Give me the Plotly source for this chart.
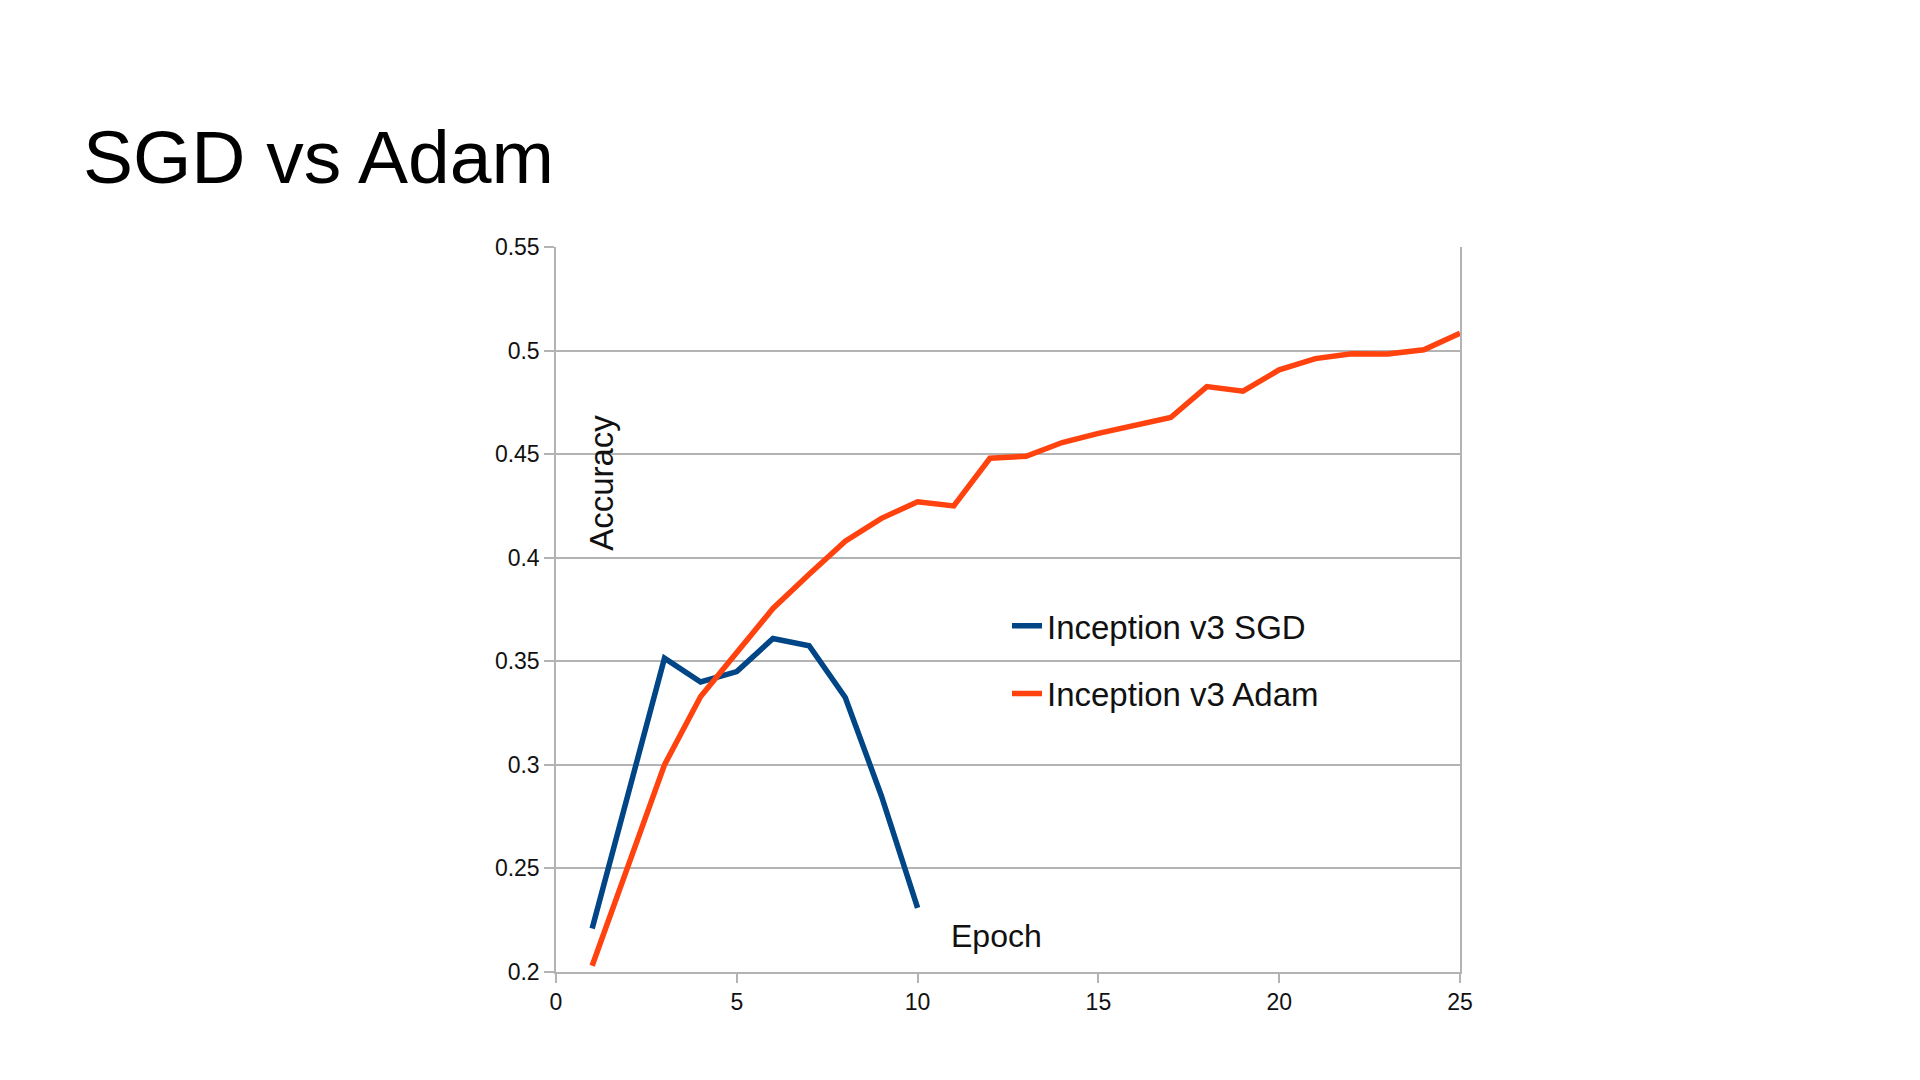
import plotly.graph_objects as go

# ---- data ----
sgd_epochs = [1, 2, 3, 4, 5, 6, 7, 8, 9, 10]
sgd_accuracy = [0.221, 0.286, 0.3515, 0.340, 0.345, 0.361, 0.3575, 0.3325, 0.285, 0.231]

adam_epochs = list(range(1, 26))
adam_accuracy = [0.203, 0.252, 0.300, 0.333, 0.3545, 0.3755, 0.392, 0.408, 0.419, 0.427,
                 0.425, 0.448, 0.449, 0.4556, 0.460, 0.4638, 0.4677, 0.4826, 0.4804, 0.4907,
                 0.4961, 0.4985, 0.4983, 0.5004, 0.5084]

series_names = ["Inception v3 SGD", "Inception v3 Adam"]
x_ticks = [0, 5, 10, 15, 20, 25]
y_ticks = [0.2, 0.25, 0.3, 0.35, 0.4, 0.45, 0.5, 0.55]
y_tick_text = ["0.2", "0.25", "0.3", "0.35", "0.4", "0.45", "0.5", "0.55"]

FONT = "Liberation Sans, Arial, sans-serif"
GRID = "#b3b3b3"

fig = go.Figure()
fig.add_trace(go.Scatter(x=sgd_epochs, y=sgd_accuracy, mode="lines", name=series_names[0],
                         legendgroup="a", line=dict(color="#004586", width=5.5)))
fig.add_trace(go.Scatter(x=adam_epochs, y=adam_accuracy, mode="lines", name=series_names[1],
                         legendgroup="b", line=dict(color="#ff420e", width=5.5)))

L, R, T, B = 556, 460, 247, 107.5
W, H = 1920, 1080
pw, ph = W - L - R, H - T - B

fig.update_layout(
    width=W, height=H,
    margin=dict(l=L, r=R, t=T, b=B, pad=0),
    paper_bgcolor="white", plot_bgcolor="white",
    font=dict(family=FONT, color="#111111"),
    title=dict(text="SGD vs Adam", font=dict(family=FONT, size=75, color="#000000"),
               xref="container", yref="container", x=83 / W, xanchor="left",
               y=1 - 157 / H, yanchor="middle"),
    showlegend=True,
    legend=dict(x=(1007 - L) / pw, y=(972.5 - 598) / ph, xanchor="left", yanchor="top",
                bgcolor="rgba(0,0,0,0)", font=dict(family=FONT, size=33, color="#111111"),
                tracegroupgap=22, traceorder="grouped"),
    xaxis=dict(range=[0, 25], tickvals=x_ticks, ticktext=[str(v) for v in x_ticks],
               showgrid=False, zeroline=False, showline=True, linecolor=GRID, linewidth=1.5,
               ticks="outside", ticklen=9, tickcolor=GRID, tickwidth=1.5,
               tickfont=dict(family=FONT, size=23, color="#111111")),
    yaxis=dict(range=[0.2, 0.55], tickvals=y_ticks, ticktext=y_tick_text,
               showgrid=True, gridcolor=GRID, gridwidth=1.5, zeroline=False,
               showline=True, linecolor=GRID, linewidth=1.5, mirror=True,
               ticks="outside", ticklen=10, tickcolor=GRID, tickwidth=1.5,
               tickfont=dict(family=FONT, size=23, color="#111111")),
    annotations=[
        dict(text="Accuracy", xref="paper", yref="paper", x=(602 - L) / pw, y=(972.5 - 483) / ph,
             xanchor="center", yanchor="middle", textangle=-90, showarrow=False,
             font=dict(family="Liberation Sans Narrow, Arial Narrow, Liberation Sans, sans-serif",
                       size=33, color="#111111")),
        dict(text="Epoch", xref="paper", yref="paper", x=(996 - L) / pw, y=(972.5 - 936) / ph,
             xanchor="center", yanchor="middle", showarrow=False,
             font=dict(family=FONT, size=32, color="#111111")),
    ],
)

fig.write_html("out.html")
